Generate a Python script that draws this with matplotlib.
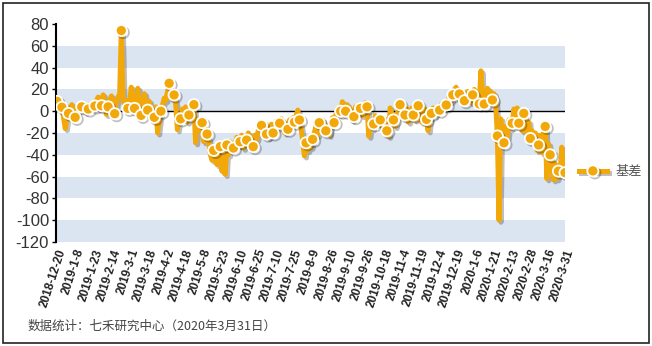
import numpy as np
import matplotlib
matplotlib.use("Agg")
import matplotlib.pyplot as plt
import matplotlib.patheffects as pe
from matplotlib.patches import Rectangle

# 基差 daily values (one row per 11 trading days)
basis = [
    9, 7, 5, 3.6, -6, -16, -5, -2, 2, 6, 1,
    -5.6, -2, 3, 1, 4, 2, -1, 4, 2, 6, 3,
    8, 4.8, 10, 13, 7, 5, 15, 9, -3, 4, 10,
    14, 6, -2.3, 8, 13, 16, 74, 12, 4, 10, 2.6,
    8, 22, 6, 2.6, 10, 21, 5, -3.8, 4, 16, 8,
    1, 9, -4, 3, -5.6, 4, -20, -8, 0, 6, 12,
    10, 18, 25.6, 12, 18, 14.9, 6, -17, -4, -7, 2,
    -3, 4, -10, -3.5, 0, 3, 6, -29, -14, -18, -8,
    -10.5, -28, -16, -21, -27, -40, -45, -36, -40, -49, -38,
    -32.5, -55, -44, -58, -31, -40, -28, -35, -33.8, -30, -24,
    -30, -28, -22, -34, -24, -26.5, -20, -28, -25, -32.5, -22,
    -26, -18, -15, -13, -22, -14, -21, -24, -16, -12, -20,
    -14, -9, -16, -11, -7, -15, -20, -12, -16.6, -8, -12,
    -6, -10, -4, 1, -8, -16, -28, -41, -29, -36, -30,
    -33, -25.8, -20, -14, -22, -10.5, -16, -8, -12, -18, -14,
    -22, -12, -6, -10.5, -4, 2, -3, 0, 8.7, 3, 0,
    6, -4, 2, -8, -5, 4, -2, 6, 2.6, -4, 5,
    8, 4, -23, -10, -16, -11.7, -4, -12, -6, -8, -14,
    -6, -12, -18, -23, 3, -2, -8, -14, -4, 2, 6,
    0, -6, -3.5, 2, -10, -4, 3, -3.5, -8, 1, 5,
    -2, -10, -4, 2, -7.5, -18, -6, -2, 3, -4, 0,
    4, 1, 6, 2, 8, 5.7, 10, 14, 9, 15, 20,
    22, 12, 15.8, 18, 14, 9.6, 14, 18, 10, 8, 15,
    20, 12, 10, 6.6, 37, 14, 6.6, 12, 21, 14, 18,
    10.3, 16, 6, -22.7, -100, -7, -20, -29, -14, -24, -8,
    -16, -11, 2, -6, 3, -11, -4, -18, -2, -12, -20,
    -10, -25, -18, -28, -20, -36, -31, -22, -38, -20, -14,
    -62, -30, -40, -52, -63, -48, -62, -55, -58, -33, -50,
    -56.4,
]

# points that carry a marker
marker_idx = [0, 3, 7, 11, 15, 19, 23, 27, 31, 35, 39, 43, 47, 51, 55, 59, 63,
              68, 71, 75, 80, 83, 88, 91, 95, 99, 103, 107, 111, 115, 119, 124,
              127, 131, 135, 140, 144, 147, 151, 155, 159, 163, 168, 172, 175,
              180, 184, 188, 192, 196, 200, 204, 208, 211, 216, 219, 224, 227,
              232, 236, 240, 244, 247, 252, 256, 259, 264, 267, 271, 276, 280,
              283, 287, 292, 296, 299, 304, 308]

date_labels = ["2018-12-20", "2019-1-8", "2019-1-23", "2019-2-14", "2019-3-1",
               "2019-3-18", "2019-4-2", "2019-4-18", "2019-5-8", "2019-5-23",
               "2019-6-10", "2019-6-25", "2019-7-10", "2019-7-25", "2019-8-9",
               "2019-8-26", "2019-9-10", "2019-9-26", "2019-10-18", "2019-11-4",
               "2019-11-19", "2019-12-4", "2019-12-19", "2020-1-6", "2020-1-21",
               "2020-2-13", "2020-2-28", "2020-3-16", "2020-3-31"]

yticks = [80, 60, 40, 20, 0, -20, -40, -60, -80, -100, -120]

orange = "#f3a80a"
band = "#dbe5f1"

fig = plt.figure(figsize=(6.52, 3.46), dpi=100)
ax = fig.add_axes([56 / 652, 1 - 242 / 346, (565 - 56) / 652, (242 - 24) / 346])

x = np.arange(len(basis))

# striped background
for lo in [40, 0, -40, -80, -120]:
    ax.axhspan(lo, lo + 20, color=band, lw=0, zorder=0)
ax.axhline(0, color="black", lw=1, zorder=1)

ax.plot(x, basis, color=orange, lw=3.6, solid_joinstyle="round",
        marker="o", markevery=marker_idx, markersize=8, markerfacecolor=orange,
        markeredgecolor="white", markeredgewidth=1.3, label="基差", zorder=3,
        path_effects=[pe.SimpleLineShadow(offset=(1.5, -1.5), shadow_color="black", alpha=0.25),
                      pe.Normal()])

ax.set_xlim(-0.6, 293)
ax.set_ylim(-120, 80)
ax.set_yticks(yticks)
ax.set_yticklabels([str(v) for v in yticks], fontsize=12, color="#333333",
                   family="Liberation Sans")
ax.set_xticks(x[::11])
ax.set_xticklabels(date_labels, rotation=72, ha="right", va="top",
                   rotation_mode="anchor", fontsize=8.5, fontweight="bold",
                   color="#222222", family="Liberation Sans")
ax.tick_params(axis="x", length=0, pad=4)
ax.tick_params(axis="y", length=3, width=1, color="black", pad=2)

for s in ["top", "right", "bottom"]:
    ax.spines[s].set_visible(False)
ax.spines["left"].set_linewidth(1.5)
ax.spines["left"].set_color("black")

leg = fig.legend(loc="center left", bbox_to_anchor=(579 / 652, 1 - 172 / 346),
                 frameon=False, borderpad=0, borderaxespad=0,
                 handlelength=2.1, handletextpad=0.7,
                 prop={"family": "Noto Sans CJK SC", "size": 9.5})
for t in leg.get_texts():
    t.set_color("#555555")

fig.text(28 / 652, 1 - 326 / 346, "数据统计：七禾研究中心（2020年3月31日）",
         fontsize=9, color="#444444", va="center",
         family=["Noto Sans CJK SC", "DejaVu Sans"])

fig.add_artist(Rectangle((2.5 / 652, 3.5 / 346), 646.5 / 652, 340 / 346,
                         transform=fig.transFigure, fill=False,
                         edgecolor="#222222", lw=1.2))

fig.savefig("out.png", dpi=100)
